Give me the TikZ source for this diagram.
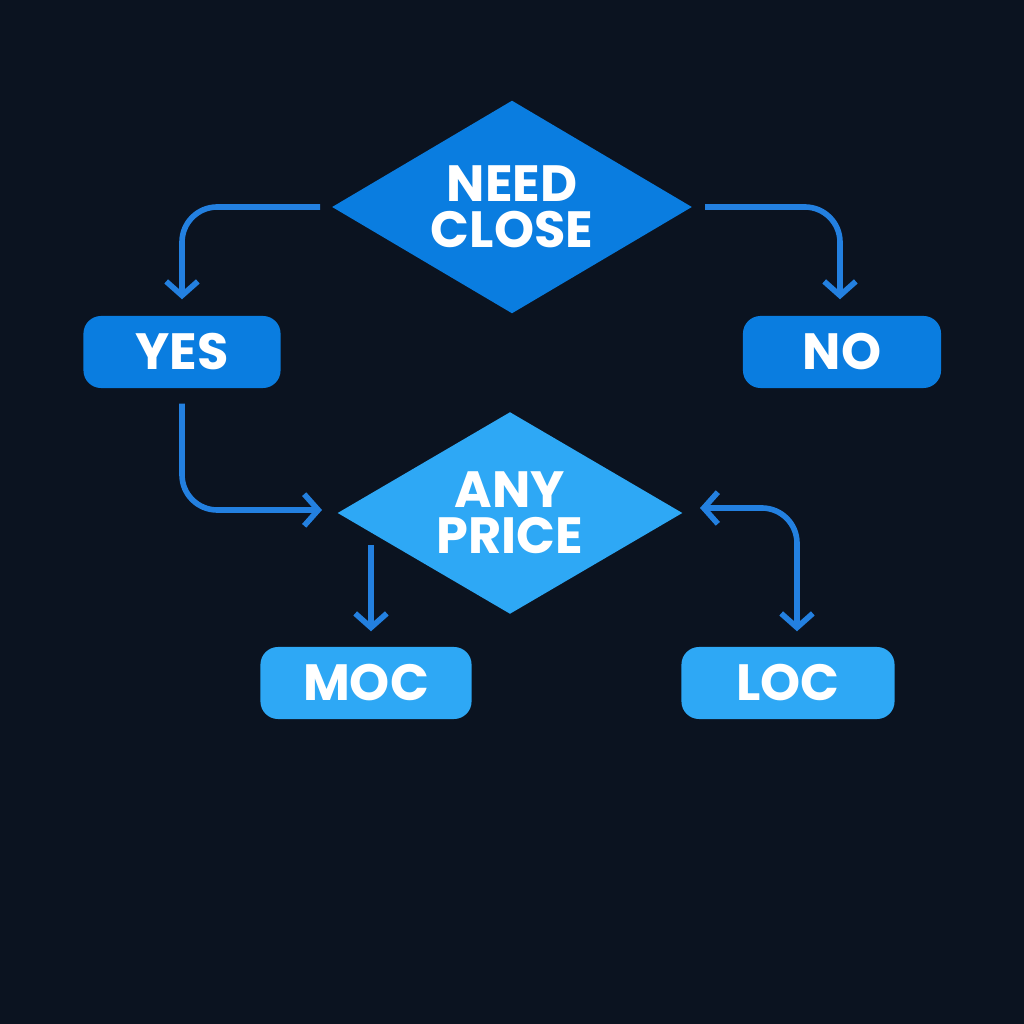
\documentclass[tikz,border=0pt]{standalone}
\usepackage{fontspec}
\setmainfont{Poppins}
\usetikzlibrary{shapes.geometric,arrows.meta,positioning}
\definecolor{bgdark}{HTML}{0B1320}
\definecolor{deepblue}{HTML}{0A7DE0}
\definecolor{lightblue}{HTML}{2EA8F5}
\definecolor{linkblue}{HTML}{2380E0}
\tikzset{
  decision/.style={diamond, aspect=1.7, inner sep=0pt, draw=none, text=white,
    font=\bfseries\fontsize{14.5}{13}\selectfont, align=center},
  answer/.style={rectangle, rounded corners=5pt, minimum height=0.72cm, text=white,
    font=\bfseries\fontsize{14.5}{13}\selectfont},
  link/.style={linkblue, line width=1.6pt, rounded corners=10pt, -{Straight Barb[length=4pt,width=9pt]}}
}
\begin{document}
\begin{tikzpicture}[x=0.01cm,y=0.01cm]
  %background
  \fill[bgdark] (0,0) rectangle (1024,1024);
  \useasboundingbox (0,0) rectangle (1024,1024);
  %decisions
  \node[decision, fill=deepblue, minimum width=3.6cm, minimum height=2.13cm] (close) at (512,817) {NEED\\CLOSE};
  \node[decision, fill=lightblue, minimum width=3.45cm, minimum height=2.02cm] (price) at (510,511) {ANY\\PRICE};
  %answers
  \node[answer, fill=deepblue, minimum width=1.97cm] (yes) at (182,672) {YES};
  \node[answer, fill=deepblue, minimum width=1.98cm] (no) at (842,672) {NO};
  \node[answer, fill=lightblue, minimum width=2.11cm] (moc) at (366,341) {MOC};
  \node[answer, fill=lightblue, minimum width=2.13cm] (loc) at (788,341) {LOC};
  %links
  \coordinate (c1) at (320,817);
  \coordinate (c2) at (705,817);
  \draw[link] (c1) -| ([yshift=0.16cm]yes.north);
  \draw[link] (c2) -| ([yshift=0.16cm]no.north -| 840,0);
  \draw[link] ([yshift=-0.15cm]yes.south) |- (322,514);
  \draw[link] (371,479) -- ([yshift=0.15cm]moc.north -| 371,0);
  \draw[link, {Straight Barb[length=4pt,width=9pt]}-{Straight Barb[length=4pt,width=9pt]}]
    (700,516) -| ([yshift=0.15cm]loc.north -| 797,0);
\end{tikzpicture}
\end{document}
